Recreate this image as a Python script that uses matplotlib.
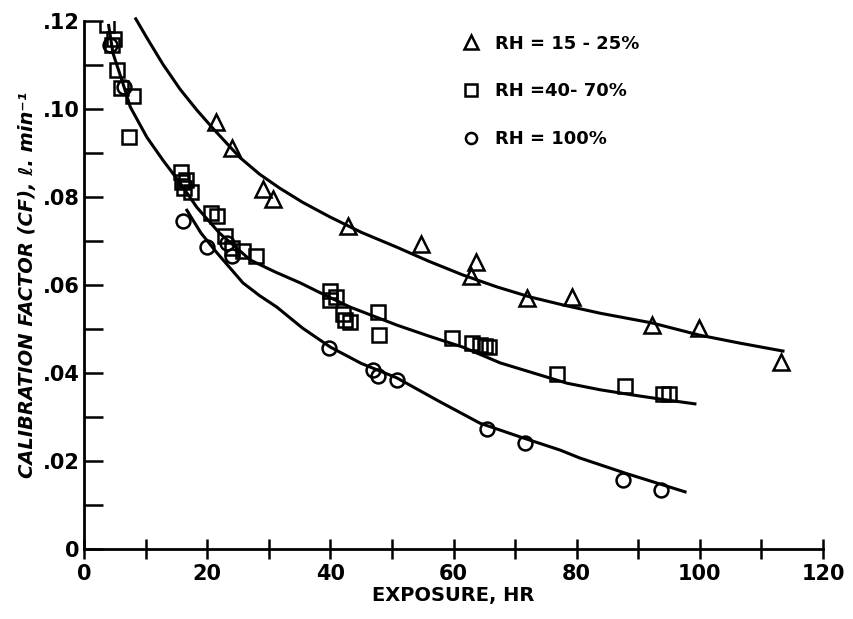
import numpy as np
import matplotlib
matplotlib.use('Agg')
import matplotlib.pyplot as plt
from matplotlib.lines import Line2D
from matplotlib.ticker import MultipleLocator, FixedLocator

# RH = 15-25 %  (triangles)
tri_x = [21.4, 24.0, 29.1, 30.7, 42.9, 54.7, 63.7, 62.8, 71.9, 79.2, 92.2, 99.9, 113.2]
tri_y = [0.0970, 0.0911, 0.0818, 0.0795, 0.0734, 0.0693, 0.0652, 0.0620, 0.0570, 0.0573,
         0.0509, 0.0502, 0.0425]
tri_fit_x = [8.4, 10.2, 12.8, 15.6, 18.3, 21.0, 25.3, 28.5, 31.8, 35.5, 39.9, 45.0, 50.8, 56.0,
             61.5, 67.0, 72.4, 78.0, 83.8, 92.2, 100.0, 106.5, 113.5]
tri_fit_y = [0.1205, 0.1162, 0.1102, 0.1045, 0.0998, 0.0955, 0.0890, 0.0852, 0.0820, 0.0788,
             0.0755, 0.0720, 0.0686, 0.0654, 0.0623, 0.0596, 0.0573, 0.0554, 0.0536, 0.0514,
             0.0486, 0.0468, 0.0450]

# RH = 40-70 %  (squares)
sq_x = [3.7, 4.9, 4.5, 5.4, 6.0, 8.0, 7.3, 15.8, 15.9, 16.6, 16.2, 17.4, 20.6, 21.6, 22.9,
        24.0, 25.8, 27.9, 40.0, 40.0, 40.9, 42.0, 42.4, 43.2, 47.7, 47.9, 59.8, 63.0, 64.3,
        65.1, 65.8, 76.8, 87.9, 94.0, 95.0]
sq_y = [0.119, 0.116, 0.1145, 0.1089, 0.1048, 0.1030, 0.0936, 0.0857, 0.0834, 0.0839, 0.0820,
        0.0811, 0.0764, 0.0757, 0.0711, 0.0684, 0.0677, 0.0666, 0.0586, 0.0566, 0.0573, 0.0534,
        0.0520, 0.0516, 0.0539, 0.0486, 0.0480, 0.0468, 0.0464, 0.0461, 0.0460, 0.0398, 0.0370,
        0.0352, 0.0352]
sq_fit_x = [4.0, 4.7, 6.3, 7.5, 10.2, 12.8, 15.6, 18.3, 22.0, 27.0, 31.0, 35.1, 39.0, 43.2,
            50.8, 56.0, 61.5, 67.6, 73.0, 78.4, 83.8, 89.2, 94.0, 99.2]
sq_fit_y = [0.1190, 0.1127, 0.1059, 0.1005, 0.0936, 0.0884, 0.0832, 0.0777, 0.0718, 0.0657,
            0.0630, 0.0605, 0.0578, 0.0550, 0.0509, 0.0484, 0.0459, 0.0423, 0.0400, 0.0377,
            0.0362, 0.0350, 0.0340, 0.0330]

# RH = 100 %  (circles)
ci_x = [4.2, 6.5, 16.1, 20.0, 23.2, 24.0, 39.8, 46.9, 47.7, 50.8, 65.4, 71.6, 87.5, 93.7]
ci_y = [0.1145, 0.1050, 0.0745, 0.0686, 0.0695, 0.0666, 0.0457, 0.0407, 0.0393, 0.0384,
        0.0273, 0.0241, 0.0157, 0.0134]
ci_fit_x = [16.7, 19.0, 21.6, 25.8, 28.5, 31.3, 35.5, 40.0, 45.0, 50.8, 57.5, 64.3, 71.0,
            77.3, 80.5, 88.0, 97.6]
ci_fit_y = [0.0770, 0.0718, 0.0673, 0.0605, 0.0576, 0.0550, 0.0502, 0.0459, 0.0422, 0.0389,
            0.0337, 0.0286, 0.0254, 0.0225, 0.0207, 0.0172, 0.0130]

labels = ['RH = 15 - 25%', 'RH =40- 70%', 'RH = 100%']
y_ticks = [0, 0.02, 0.04, 0.06, 0.08, 0.10, 0.12]
y_tick_labels = ['0', '.02', '.04', '.06', '.08', '.10', '.12']

fig = plt.figure(figsize=(8.54, 6.19), dpi=100)
ax = fig.add_axes([0.0984, 0.113, 0.8653, 0.853])

mk = dict(color='black', mfc='none', mew=1.8, ls='none')
ax.plot(tri_x, tri_y, marker='^', ms=12, **mk)
ax.plot(sq_x, sq_y, marker='s', ms=10, **mk)
ax.plot(ci_x, ci_y, marker='o', ms=10, **mk)

for fx, fy in [(tri_fit_x, tri_fit_y), (sq_fit_x, sq_fit_y), (ci_fit_x, ci_fit_y)]:
    ax.plot(fx, fy, color='black', lw=2.2, clip_on=False)

ax.set_xlim(0, 120)
ax.set_ylim(0, 0.12)
ax.spines['top'].set_visible(False)
ax.spines['right'].set_visible(False)
ax.spines['left'].set_linewidth(2)
ax.spines['bottom'].set_linewidth(2)

ax.xaxis.set_major_locator(MultipleLocator(20))
ax.xaxis.set_minor_locator(MultipleLocator(10))
ax.yaxis.set_major_locator(FixedLocator(y_ticks))
ax.yaxis.set_minor_locator(MultipleLocator(0.01))
ax.set_yticklabels(y_tick_labels)

ax.tick_params(axis='x', which='both', direction='inout', length=14, width=1.8, labelsize=15)
ax.tick_params(axis='y', which='both', direction='in', length=14, width=1.8, labelsize=15,
               pad=3)
for lab in ax.get_xticklabels() + ax.get_yticklabels():
    lab.set_fontweight('bold')

ax.set_xlabel('EXPOSURE, HR', fontsize=14, fontweight='bold', labelpad=2)
ax.set_ylabel('CALIBRATION FACTOR (CF), ℓ. min⁻¹', fontsize=14, fontweight='bold',
              fontstyle='italic', labelpad=4)

handles = [Line2D([], [], marker=m, ms=s, **mk) for m, s in [('^', 10), ('s', 8), ('o', 8)]]
ax.legend(handles, labels, loc='upper left', bbox_to_anchor=(0.49, 1.005), frameon=False,
          prop=dict(size=13, weight='bold'), handlelength=1.0, handletextpad=0.8,
          labelspacing=1.65)

fig.savefig('out.png', dpi=100)
